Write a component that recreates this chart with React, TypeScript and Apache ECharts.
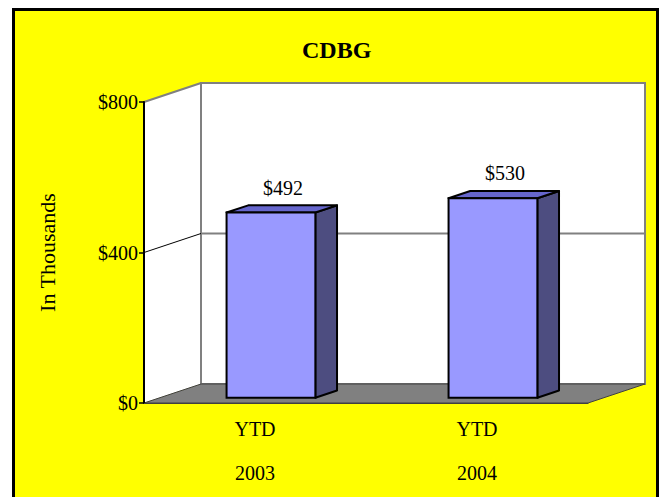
import React, { useEffect, useRef } from "react";
import * as echarts from "echarts";

const periods = ["YTD", "YTD"];
const years = ["2003", "2004"];
const values = [492, 530];
const yTicks = [0, 400, 800];
const titleText = "CDBG";
const yName = "In Thousands";

const FONT = "'Liberation Serif', 'Times New Roman', serif";
const DX = 57;
const DY = -19;
const F = 0.28; // bar front depth fraction
const D = 0.38; // bar depth fraction

export default function App() {
  const ref = useRef<HTMLDivElement>(null);
  useEffect(() => {
    if (!ref.current) return;
    const chart = echarts.init(ref.current, null, { renderer: "svg" });
    const categories = periods.map((p, i) => p + "\n\n" + years[i]);
    const option: any = {
      animation: false,
      backgroundColor: "#ffffff",
      title: {
        text: titleText,
        left: 302,
        top: 38,
        padding: 0,
        textStyle: { fontFamily: FONT, fontSize: 24, fontWeight: "bold", color: "#000" },
      },
      graphic: [
        {
          type: "rect",
          z: -10,
          silent: true,
          shape: { x: 13.5, y: 9.5, width: 644, height: 500 },
          style: { fill: "#ffff00", stroke: "#000", lineWidth: 3 },
        },
      ],
      grid: { left: 144, top: 102, width: 444, height: 301, containLabel: false },
      xAxis: {
        type: "category",
        data: categories,
        axisLine: { show: true, lineStyle: { color: "#404040", width: 1 } },
        axisTick: { show: false },
        splitLine: { show: false },
        axisLabel: {
          fontFamily: FONT,
          fontSize: 20,
          lineHeight: 22,
          color: "#000",
          margin: 15,
        },
        z: 5,
      },
      yAxis: {
        type: "value",
        min: yTicks[0],
        max: yTicks[yTicks.length - 1],
        interval: yTicks[1] - yTicks[0],
        name: yName,
        nameLocation: "middle",
        nameRotate: 90,
        nameGap: 86,
        nameTextStyle: { fontFamily: FONT, fontSize: 22, color: "#000" },
        axisLine: { show: true, lineStyle: { color: "#000", width: 2 } },
        axisTick: { show: true, length: 5, lineStyle: { color: "#000", width: 1.5 } },
        splitLine: { show: false },
        axisLabel: {
          fontFamily: FONT,
          fontSize: 20,
          color: "#000",
          margin: 6,
          formatter: (v: number) => "$" + v,
        },
        z: 5,
      },
      series: [
        {
          type: "custom",
          z: 1,
          silent: true,
          data: [[0, 0]],
          renderItem: (params: any, api: any) => {
            const cs = params.coordSys;
            const x0 = cs.x;
            const x1 = cs.x + cs.width;
            const yBot = api.coord([0, yTicks[0]])[1];
            const yTop = api.coord([0, yTicks[yTicks.length - 1]])[1];
            const children: any[] = [
              {
                type: "polygon",
                shape: { points: [[x0, yTop], [x0 + DX, yTop + DY], [x0 + DX, yBot + DY], [x0, yBot]] },
                style: { fill: "#ffffff" },
              },
              {
                type: "rect",
                shape: { x: x0 + DX, y: yTop + DY, width: x1 - x0, height: yBot - yTop },
                style: { fill: "#ffffff", stroke: "#808080", lineWidth: 2 },
              },
              {
                type: "polygon",
                shape: { points: [[x0, yBot], [x1, yBot], [x1 + DX, yBot + DY], [x0 + DX, yBot + DY]] },
                style: { fill: "#808080", stroke: "#404040", lineWidth: 1 },
              },
            ];
            yTicks.forEach((t, k) => {
              if (t === yTicks[0]) return;
              const y = api.coord([0, t])[1];
              const isTop = k === yTicks.length - 1;
              children.push({
                type: "line",
                shape: { x1: x0 + DX, y1: y + DY, x2: x1 + DX, y2: y + DY },
                style: { stroke: "#808080", lineWidth: 2 },
              });
              children.push({
                type: "line",
                shape: { x1: x0, y1: y, x2: x0 + DX, y2: y + DY },
                style: isTop ? { stroke: "#808080", lineWidth: 2 } : { stroke: "#000", lineWidth: 1 },
              });
            });
            return { type: "group", children };
          },
        },
        {
          type: "custom",
          z: 3,
          data: values.map((v, i) => [i, v]),
          renderItem: (params: any, api: any) => {
            const i = api.value(0);
            const v = api.value(1);
            const c0 = api.coord([i, 0]);
            const c1 = api.coord([i, v]);
            const bw = api.size([1, 0])[0] * 0.4;
            const fx = c0[0] + F * DX - bw / 2;
            const fy0 = c0[1] + F * DY;
            const fy1 = c1[1] + F * DY;
            const sdx = D * DX;
            const sdy = D * DY;
            return {
              type: "group",
              children: [
                {
                  type: "polygon",
                  shape: { points: [[fx + bw, fy1], [fx + bw + sdx, fy1 + sdy], [fx + bw + sdx, fy0 + sdy], [fx + bw, fy0]] },
                  style: { fill: "#4d4d80", stroke: "#000", lineWidth: 2, lineJoin: "round" },
                },
                {
                  type: "polygon",
                  shape: { points: [[fx, fy1], [fx + sdx, fy1 + sdy], [fx + bw + sdx, fy1 + sdy], [fx + bw, fy1]] },
                  style: { fill: "#6666cc", stroke: "#000", lineWidth: 2, lineJoin: "round" },
                },
                {
                  type: "rect",
                  shape: { x: fx, y: fy1, width: bw, height: fy0 - fy1 },
                  style: { fill: "#9999ff", stroke: "#000", lineWidth: 2 },
                },
                {
                  type: "text",
                  style: {
                    x: fx + bw / 2 + 12,
                    y: fy1 - 25,
                    text: "$" + v,
                    font: "20px " + FONT,
                    fill: "#000",
                    textAlign: "center",
                    textVerticalAlign: "middle",
                  },
                },
              ],
            };
          },
        },
      ],
    };
    chart.setOption(option);
    return () => chart.dispose();
  }, []);
  return (
    <div
      ref={ref}
      style={{ position: "absolute", left: 0, top: 0, width: 660, height: 497 }}
    />
  );
}
